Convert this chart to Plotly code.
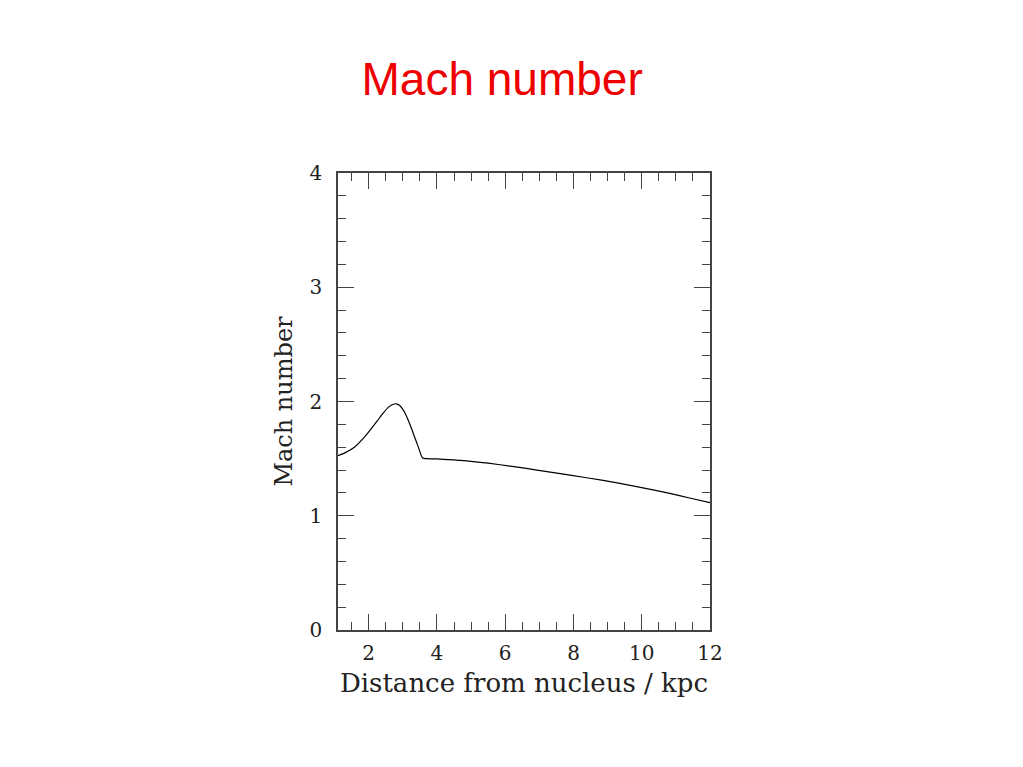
import plotly.graph_objects as go

# Data
distance_kpc = [1.10, 1.30, 1.58, 1.88, 2.07, 2.25, 2.40, 2.60, 2.72, 2.80, 2.90, 2.99,
                3.07, 3.14, 3.24, 3.33, 3.45, 3.58, 4.00, 4.70, 5.50, 6.20, 6.93, 7.90,
                8.87, 9.85, 10.82, 11.40, 12.00]
mach = [1.525, 1.550, 1.600, 1.690, 1.760, 1.830, 1.890, 1.955, 1.976, 1.980, 1.968, 1.935,
        1.895, 1.850, 1.775, 1.700, 1.605, 1.505, 1.498, 1.485, 1.460, 1.432, 1.400, 1.355,
        1.310, 1.255, 1.196, 1.155, 1.114]

x_ticks = [2, 4, 6, 8, 10, 12]
y_ticks = [0, 1, 2, 3, 4]

serif = "DejaVu Serif, Liberation Serif, serif"
frame = "#444444"

fig = go.Figure()
fig.add_trace(go.Scatter(x=distance_kpc, y=mach, mode="lines",
                         line=dict(color="black", width=1.2, shape="spline", smoothing=0.5),
                         showlegend=False, hoverinfo="skip"))

fig.update_layout(
    width=1023, height=767,
    margin=dict(l=330, r=321, t=165, b=145),
    paper_bgcolor="white", plot_bgcolor="white",
    title=dict(text="Mach number", x=0.483, xanchor="center", y=0.908, yanchor="middle",
               font=dict(family="Liberation Sans, Arial, sans-serif", size=46, color="#ee0000")),
    xaxis=dict(range=[1.1, 12], tickmode="array", tickvals=x_ticks,
               ticktext=[str(v) for v in x_ticks],
               ticks="inside", ticklen=16, tickwidth=1.2, tickcolor=frame,
               minor=dict(ticks="inside", ticklen=8, dtick=0.5, tick0=0, tickcolor=frame, tickwidth=1.2),
               showline=True, linecolor=frame, linewidth=1.5, mirror="allticks",
               showgrid=False, zeroline=False, ticklabelstandoff=4,
               tickfont=dict(family=serif, size=20, color="#222"),
               title=dict(text="Distance from nucleus / kpc", standoff=10,
                          font=dict(family=serif, size=26, color="#222"))),
    yaxis=dict(range=[0, 4], tickmode="array", tickvals=y_ticks,
               ticktext=[str(v) for v in y_ticks],
               ticks="inside", ticklen=16, tickwidth=1.2, tickcolor=frame,
               minor=dict(ticks="inside", ticklen=8, dtick=0.2, tick0=0, tickcolor=frame, tickwidth=1.2),
               showline=True, linecolor=frame, linewidth=1.5, mirror="allticks",
               showgrid=False, zeroline=False, ticklabelstandoff=10,
               tickfont=dict(family=serif, size=20, color="#222"),
               title=dict(text="Mach number", standoff=10,
                          font=dict(family=serif, size=24, color="#222"))),
)

fig.write_html("out.html")
